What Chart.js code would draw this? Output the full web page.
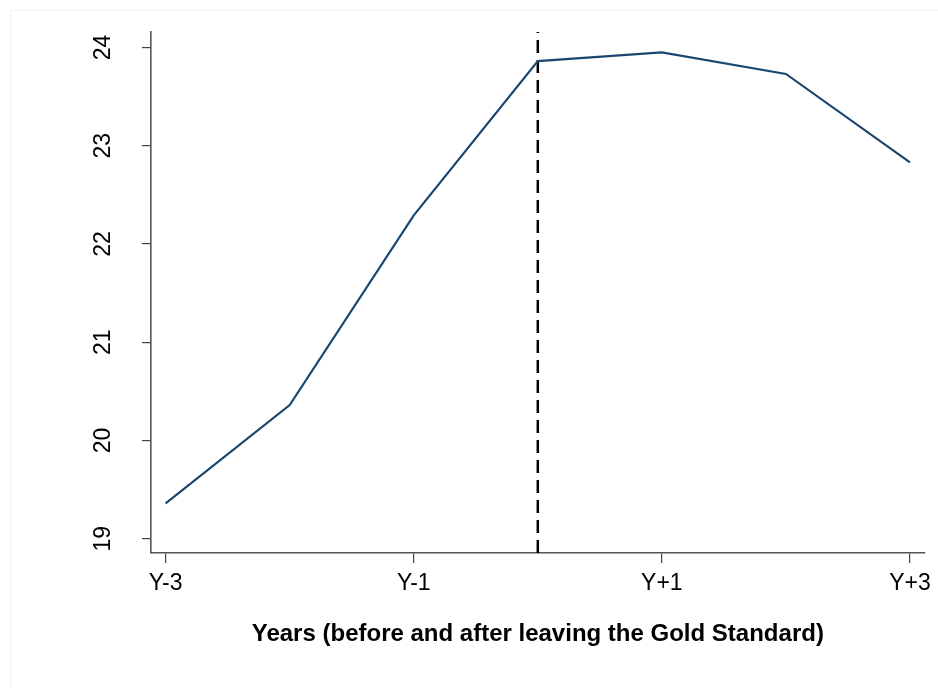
<!DOCTYPE html>
<html>
<head>
<meta charset="utf-8">
<script src="https://cdn.jsdelivr.net/npm/chart.js@4.4.1/dist/chart.umd.min.js"></script>
<style>
  html, body { margin: 0; padding: 0; background: #fff; }
  #wrap { width: 938px; height: 688px; }
</style>
</head>
<body>
<div id="wrap"><canvas id="chart" width="938" height="688"></canvas></div>
<script>
// Datos
const years = ['Y-3', 'Y-2', 'Y-1', 'Y', 'Y+1', 'Y+2', 'Y+3'];
const yearOffsets = [-3, -2, -1, 0, 1, 2, 3];
const values = [19.36, 20.36, 22.29, 23.86, 23.95, 23.73, 22.83];
const xTickValues = [-3, -1, 1, 3];
const yTickValues = [19, 20, 21, 22, 23, 24];
const breakYear = 0; // año de salida del patrón oro
const yMin = 18.854;
const yMax = 24.157;

const fontFamily = '"Liberation Sans", Arial, Helvetica, sans-serif';

// Etiquetas del eje Y giradas 90 grados
const rotatedYLabels = {
    id: 'rotatedYLabels',
    afterDraw(chart) {
        const ctx = chart.ctx;
        const y = chart.scales.y;
        ctx.save();
        ctx.fillStyle = '#000';
        ctx.font = '23px ' + fontFamily;
        ctx.textAlign = 'center';
        ctx.textBaseline = 'middle';
        yTickValues.forEach(function (v) {
            ctx.save();
            ctx.translate(104, y.getPixelForValue(v));
            ctx.rotate(-Math.PI / 2);
            ctx.fillText(String(v), 0, 0);
            ctx.restore();
        });
        ctx.restore();
    }
};

// Marco muy tenue del área del gráfico
const faintFrame = {
    id: 'faintFrame',
    beforeDraw(chart) {
        const ctx = chart.ctx;
        ctx.save();
        ctx.strokeStyle = '#f2f2f2';
        ctx.lineWidth = 1;
        ctx.strokeRect(10.5, 10.5, 1000, 1000);
        ctx.restore();
    }
};

const ctx = document.getElementById('chart').getContext('2d');
new Chart(ctx, {
    type: 'line',
    data: {
        datasets: [
            {
                label: 'Serie',
                data: yearOffsets.map((x, i) => ({ x: x, y: values[i] })),
                borderColor: '#1a476f',
                borderWidth: 2.2,
                pointRadius: 0,
                fill: false,
                tension: 0
            },
            {
                label: 'Salida',
                data: [{ x: breakYear, y: yMin }, { x: breakYear, y: yMax }],
                borderColor: '#000',
                borderWidth: 2.5,
                borderDash: [13, 7],
                pointRadius: 0,
                fill: false
            }
        ]
    },
    options: {
        responsive: false,
        animation: false,
        layout: {
            padding: { left: 0, right: 13, top: 32, bottom: 0 }
        },
        plugins: {
            legend: { display: false },
            tooltip: { enabled: false }
        },
        scales: {
            x: {
                type: 'linear',
                min: -3.118,
                max: 3.118,
                afterBuildTicks: function (scale) {
                    scale.ticks = xTickValues.map(v => ({ value: v }));
                },
                afterFit: function (scale) {
                    scale.height = 135;
                },
                grid: {
                    display: true,
                    drawOnChartArea: false,
                    drawTicks: true,
                    tickLength: 10,
                    color: '#444',
                    lineWidth: 1.2
                },
                border: { display: true, color: '#555', width: 1.6 },
                ticks: {
                    color: '#000',
                    padding: 7,
                    maxRotation: 0,
                    autoSkip: false,
                    font: { family: fontFamily, size: 23 },
                    callback: function (value) {
                        return years[yearOffsets.indexOf(value)];
                    }
                },
                title: {
                    display: true,
                    text: 'Years (before and after leaving the Gold Standard)',
                    color: '#000',
                    font: { family: fontFamily, size: 24, weight: 'bold' },
                    padding: { top: 0, bottom: 39 }
                }
            },
            y: {
                type: 'linear',
                min: yMin,
                max: yMax,
                afterBuildTicks: function (scale) {
                    scale.ticks = yTickValues.map(v => ({ value: v }));
                },
                afterFit: function (scale) {
                    scale.width = 151;
                },
                grid: {
                    display: true,
                    drawOnChartArea: false,
                    drawTicks: true,
                    tickLength: 9,
                    color: '#444',
                    lineWidth: 1.2
                },
                border: { display: true, color: '#555', width: 1.6 },
                ticks: { display: false }
            }
        }
    },
    plugins: [faintFrame, rotatedYLabels]
});
</script>
</body>
</html>
